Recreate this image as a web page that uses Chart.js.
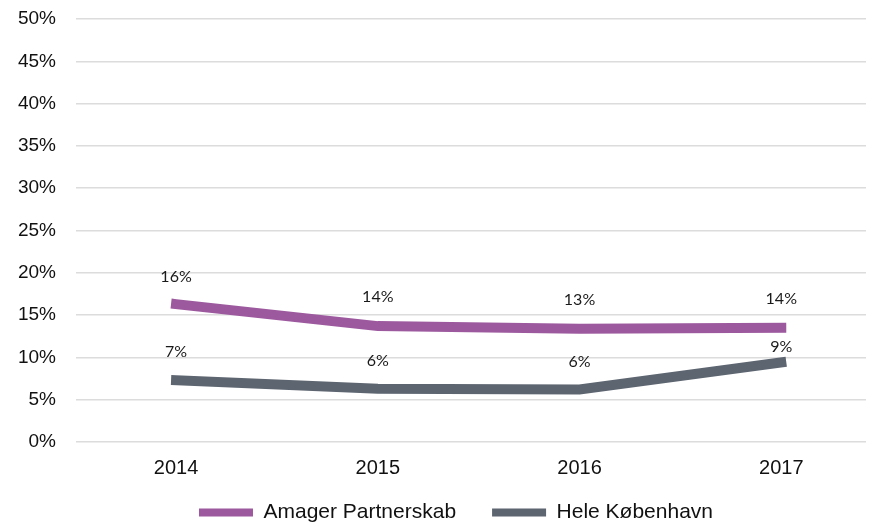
<!DOCTYPE html>
<html>
<head>
<meta charset="utf-8">
<script src="https://cdn.jsdelivr.net/npm/chart.js@4/dist/chart.umd.min.js"></script>
<style>
  html, body { margin: 0; padding: 0; background: #fff; }
  #wrap { width: 870px; height: 525px; }
</style>
</head>
<body>
<div id="wrap"><canvas id="chart" width="870" height="525"></canvas></div>
<script>
// Årstal og andele (%)
const years = [2014, 2015, 2016, 2017];
const amager = [16.3, 13.7, 13.4, 13.5];
const heleKbh = [7.3, 6.3, 6.2, 9.4];
const seriesNames = ['Amager Partnerskab', 'Hele København'];
const yTicks = [0, 5, 10, 15, 20, 25, 30, 35, 40, 45, 50];

const purple = '#9c599e';
const slate = '#5d6570';
const font = "'Liberation Sans', Arial, sans-serif";

// afstand fra punkt til tal-etiket (px)
const labelGap = [[27, 29, 29, 29], [28, 28, 28, 16]];

// tegner procenttal over hvert punkt
const valueLabels = {
  id: 'valueLabels',
  afterDatasetsDraw(chart) {
    const ctx = chart.ctx;
    ctx.save();
    ctx.font = "16px Lato, 'Noto Sans', sans-serif";
    ctx.fillStyle = '#1a1a1a';
    ctx.textAlign = 'center';
    ctx.textBaseline = 'middle';
    chart.data.datasets.forEach((ds, d) => {
      chart.getDatasetMeta(d).data.forEach((pt, i) => {
        ctx.fillText(Math.round(ds.data[i].y) + '%', pt.x, pt.y - labelGap[d][i]);
      });
    });
    ctx.restore();
  }
};

// flytter forklaringen lidt til højre og giver årstallene plads nedad
const layoutTweak = {
  id: 'layoutTweak',
  afterLayout(chart) {
    const lg = chart.legend;
    const dx = 456 - (lg.left + lg.right) / 2;
    lg.left += dx;
    lg.right += dx;
    chart.scales.x.bottom = lg.top + 30;
  }
};

const toPoints = vals => years.map((yr, i) => ({ x: yr, y: vals[i] }));

new Chart(document.getElementById('chart'), {
  type: 'line',
  data: {
    datasets: [
      { label: seriesNames[0], data: toPoints(amager), borderColor: purple, backgroundColor: purple },
      { label: seriesNames[1], data: toPoints(heleKbh), borderColor: slate, backgroundColor: slate }
    ]
  },
  options: {
    responsive: false,
    animation: false,
    layout: { padding: { top: 19, right: 4, left: 0, bottom: -8 } },
    elements: {
      line: { borderWidth: 10, tension: 0, borderCapStyle: 'square', fill: false },
      point: { radius: 0, hoverRadius: 0 }
    },
    scales: {
      x: {
        type: 'linear',
        min: 2013.504,
        max: 2017.42,
        grid: { display: false, drawTicks: false },
        border: { display: false },
        afterBuildTicks: scale => { scale.ticks = years.map(v => ({ value: v })); },
        afterFit: scale => { scale.height = 24; },
        ticks: {
          autoSkip: false,
          maxRotation: 0,
          padding: 14,
          color: '#111',
          font: { family: font, size: 20 },
          callback: v => String(v)
        }
      },
      y: {
        min: 0,
        max: 50,
        afterBuildTicks: scale => { scale.ticks = yTicks.map(v => ({ value: v })); },
        afterFit: scale => {
          scale.width = 76;
          scale.paddingTop = 12;
          scale.paddingBottom = 12;
        },
        grid: { color: '#dcdcdc', lineWidth: 1.5, drawTicks: false },
        border: { display: false },
        ticks: {
          padding: 20,
          color: '#111',
          font: { family: font, size: 19 },
          callback: v => v + '%'
        }
      }
    },
    plugins: {
      tooltip: { enabled: false },
      legend: {
        position: 'bottom',
        labels: {
          boxWidth: 54,
          boxHeight: 8,
          padding: 36,
          color: '#111',
          font: { family: font, size: 21 },
          generateLabels: chart => Chart.defaults.plugins.legend.labels.generateLabels(chart).map(item => {
            item.fillStyle = item.strokeStyle;
            item.lineWidth = 0;
            return item;
          })
        }
      }
    }
  },
  plugins: [valueLabels, layoutTweak]
});
</script>
</body>
</html>
